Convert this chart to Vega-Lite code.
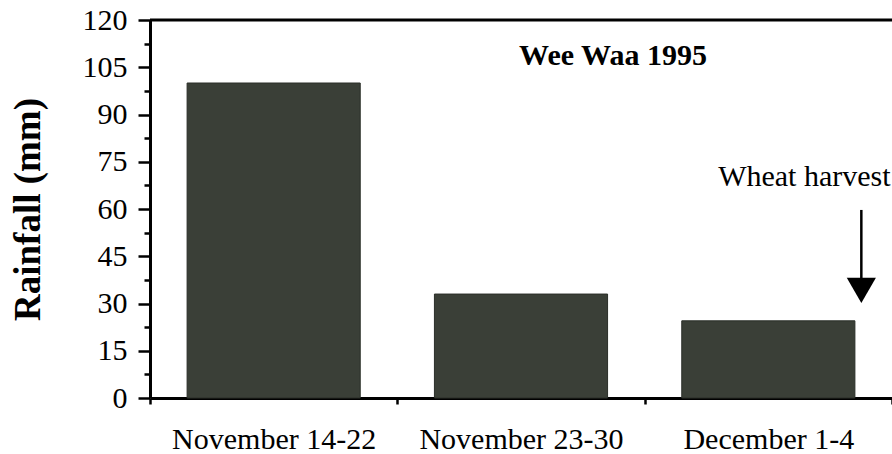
{
  "$schema": "https://vega.github.io/schema/vega-lite/v6.json",
  "width": 742,
  "height": 378,
  "autosize": "none",
  "padding": {"left": 150, "top": 20, "right": 0, "bottom": 56},
  "background": "white",
  "data": {"values": [{}]},
  "config": {
    "font": "Liberation Serif",
    "view": {"stroke": null},
    "axis": {"labelColor": "black", "titleColor": "black", "domainColor": "black", "tickColor": "black", "grid": false}
  },
  "title": {
    "text": "Wee Waa 1995",
    "font": "Liberation Serif",
    "fontSize": 30,
    "fontWeight": "bold",
    "color": "black",
    "anchor": "middle",
    "baseline": "alphabetic",
    "offset": -90,
    "dx": 92
  },
  "datasets": {
    "rain": [
      {"Period": "November 14-22", "Rainfall": 100},
      {"Period": "November 23-30", "Rainfall": 33},
      {"Period": "December 1-4", "Rainfall": 24.5}
    ]
  },
  "resolve": {"axis": {"y": "independent"}},
  "layer": [
    {
      "data": {"name": "rain"},
      "mark": {"type": "bar", "color": "#3a3f37", "stroke": "#2a2e28", "strokeWidth": 1, "width": {"band": 0.7}},
      "encoding": {
        "x": {
          "field": "Period",
          "type": "nominal",
          "sort": null,
          "scale": {"paddingInner": 0, "paddingOuter": 0},
          "axis": {
            "title": null,
            "labelAngle": 0,
            "labelFontSize": 30,
            "labelLimit": 0,
            "labelPadding": 20,
            "tickBand": "extent",
            "tickSize": 6,
            "tickWidth": 2.5,
            "domainWidth": 3
          }
        },
        "y": {
          "field": "Rainfall",
          "type": "quantitative",
          "scale": {"domain": [0, 120], "nice": false},
          "axis": {
            "orient": "left",
            "title": "Rainfall (mm)",
            "titleFontSize": 37,
            "titleFontWeight": "bold",
            "titlePadding": 35,
            "values": [0, 15, 30, 45, 60, 75, 90, 105, 120],
            "labelFontSize": 30,
            "labelPadding": 11,
            "labelOverlap": false,
            "tickSize": 12,
            "tickWidth": 2.5,
            "domainWidth": 3
          }
        }
      }
    },
    {
      "mark": {"type": "rule", "color": "black", "strokeWidth": 3},
      "encoding": {
        "y": {
          "datum": 120,
          "axis": {
            "orient": "left",
            "title": null,
            "labels": false,
            "domain": false,
            "values": [7.5, 22.5, 37.5, 52.5, 67.5, 82.5, 97.5, 112.5],
            "tickSize": 6,
            "tickWidth": 2.5
          }
        }
      }
    },
    {
      "mark": {"type": "text", "text": "Wheat harvest", "fontSize": 30, "font": "Liberation Serif", "color": "black", "align": "center", "baseline": "alphabetic", "dx": 36},
      "encoding": {"x": {"datum": "December 1-4"}, "y": {"datum": 67.3, "axis": null}}
    },
    {
      "mark": {"type": "rule", "color": "black", "strokeWidth": 2.5, "xOffset": 93},
      "encoding": {"x": {"datum": "December 1-4"}, "y": {"datum": 59.7, "axis": null}, "y2": {"datum": 37}}
    },
    {
      "mark": {"type": "point", "shape": "triangle-down", "filled": true, "color": "black", "opacity": 1, "size": 850, "xOffset": 93},
      "encoding": {"x": {"datum": "December 1-4"}, "y": {"datum": 34.2, "axis": null}}
    }
  ]
}
